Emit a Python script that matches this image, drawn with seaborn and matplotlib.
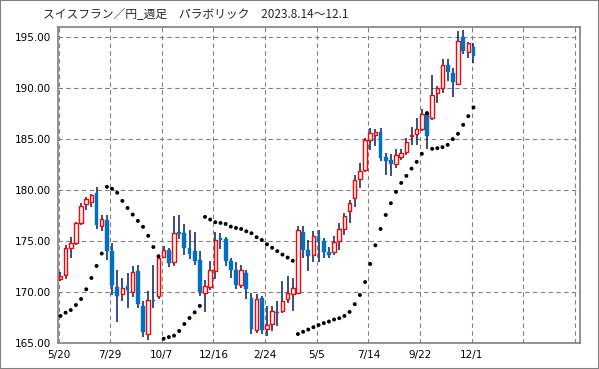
import numpy as np
import pandas as pd
import matplotlib
matplotlib.use("Agg")
import matplotlib.pyplot as plt
import seaborn as sns
from matplotlib.patches import Rectangle

# ---- data (weekly CHF/JPY candles and parabolic SAR) ----
opens = [171.27, 171.63, 174.31, 174.80, 176.76, 178.62, 178.82, 179.70, 176.47, 177.09,
         174.05, 170.52, 169.80, 170.62, 170.00, 172.10, 168.59, 165.85, 169.25, 169.57,
         173.41, 174.15, 172.94, 175.91, 175.78, 174.31, 174.05, 173.17, 169.90, 170.49,
         172.06, 175.29, 175.19, 173.07, 172.12, 170.72, 171.86, 169.41, 166.29, 169.38,
         166.35, 166.85, 168.03, 168.17, 169.34, 169.83, 169.93, 175.85, 174.15, 173.62,
         175.52, 174.96, 173.90, 173.95, 174.99, 176.20, 177.91, 179.21, 181.08, 181.95,
         184.93, 185.34, 185.70, 183.17, 182.90, 182.56, 183.24, 183.72, 185.30, 185.49,
         185.94, 187.42, 187.02, 189.47, 189.96, 192.19, 191.40, 190.39, 194.96, 193.49,
         193.95]
highs = [171.92, 174.64, 175.39, 176.90, 178.72, 179.28, 179.60, 180.32, 177.58, 177.51,
         174.80, 172.19, 171.37, 171.86, 172.51, 172.68, 169.08, 170.06, 172.60, 173.43,
         174.47, 174.35, 177.45, 177.50, 176.70, 176.04, 175.88, 174.05, 171.21, 173.00,
         175.85, 175.78, 175.40, 173.33, 172.89, 172.61, 172.12, 169.90, 169.80, 169.57,
         168.61, 168.66, 169.08, 171.04, 171.60, 171.37, 176.47, 176.43, 175.13, 175.94,
         176.04, 175.29, 174.40, 175.45, 176.76, 177.74, 179.00, 181.45, 182.64, 185.10,
         186.07, 185.95, 186.02, 183.65, 183.55, 184.00, 184.00, 185.09, 186.12, 187.02,
         187.94, 187.68, 191.21, 190.13, 192.84, 192.84, 191.93, 195.58, 195.68, 194.50,
         194.37]
lows = [171.04, 171.30, 173.33, 174.60, 176.60, 178.04, 178.36, 176.20, 175.94, 173.17,
        169.67, 167.06, 169.08, 168.43, 169.51, 168.40, 165.59, 165.33, 168.40, 169.30,
        173.50, 172.45, 172.51, 175.20, 173.66, 173.23, 172.68, 169.60, 168.00, 170.23,
        171.27, 174.21, 172.58, 171.37, 170.29, 170.39, 169.31, 165.86, 166.00, 165.89,
        165.73, 166.14, 166.63, 167.94, 168.92, 168.10, 169.85, 173.33, 172.02, 172.91,
        172.91, 173.33, 173.35, 173.66, 174.15, 175.62, 176.80, 178.30, 180.19, 181.76,
        183.95, 184.30, 182.85, 181.50, 181.40, 182.15, 182.90, 183.46, 184.35, 184.41,
        185.72, 183.98, 186.83, 188.49, 189.47, 190.62, 189.05, 190.29, 193.33, 192.90,
        192.41]
closes = [171.60, 174.31, 174.80, 176.76, 178.40, 179.11, 179.54, 176.53, 177.19, 173.98,
          170.65, 169.57, 170.39, 170.15, 171.99, 168.85, 166.08, 169.25, 169.10, 173.32,
          174.06, 172.85, 175.73, 175.70, 174.26, 173.71, 173.07, 170.00, 170.55, 172.12,
          175.06, 175.13, 173.07, 172.12, 170.65, 172.12, 170.27, 166.35, 169.34, 166.29,
          166.78, 168.14, 167.90, 169.11, 169.93, 170.42, 176.06, 174.08, 173.49, 175.49,
          174.90, 173.92, 173.62, 174.93, 176.20, 177.45, 178.71, 180.96, 181.83, 184.93,
          185.58, 185.70, 183.15, 182.83, 182.51, 183.45, 183.63, 184.68, 185.42, 185.98,
          187.45, 185.32, 189.25, 189.93, 192.19, 191.50, 190.52, 194.60, 193.56, 194.38,
          193.10]
sar = [167.65, 167.97, 168.23, 168.72, 169.31, 170.26, 171.37, 172.55, 173.76, 180.29,
       180.10, 179.72, 178.92, 178.22, 177.58, 176.96, 176.38, 175.50, 174.40, 173.50,
       165.42, 165.58, 165.72, 166.17, 166.86, 167.45, 168.00, 168.63, 177.35, 177.09,
       176.83, 176.76, 176.66, 176.40, 176.27, 176.17, 175.94, 175.75, 175.36, 175.09,
       174.67, 174.33, 174.00, 173.66, 173.37, 173.05, 165.88, 166.10, 166.32, 166.55,
       166.76, 166.95, 167.10, 167.30, 167.43, 167.65, 168.04, 168.80, 169.70, 170.97,
       172.74, 174.57, 176.17, 177.54, 178.69, 179.80, 180.68, 181.37, 182.08, 182.74,
       183.53, 187.51, 184.02, 184.08, 184.18, 184.41, 184.97, 185.49, 186.37, 187.22,
       188.07]
tick_labels = ["5/20", "7/29", "10/7", "12/16", "2/24", "5/5", "7/14", "9/22", "12/1", "", ""]
y_ticks = [165, 170, 175, 180, 185, 190, 195]
title = "スイスフラン／円_週足　パラボリック　2023.8.14～12.1"

df = pd.DataFrame({"open": opens, "high": highs, "low": lows, "close": closes, "sar": sar})
df["x"] = np.arange(len(df)) + 0.37

sns.set_style("white")
plt.rcParams["font.family"] = ["DejaVu Sans"]

W, H = 599, 369
fig = plt.figure(figsize=(W / 100, H / 100), dpi=100)
ax = fig.add_axes([58 / W, 1 - 343 / H, (580 - 58) / W, (343 - 27) / H])

up = df["close"] >= df["open"]
# wicks
ax.vlines(df["x"], df["low"], df["high"], color="#002060", linewidth=1.1, zorder=2)
# bodies
body_bottom = np.minimum(df["open"], df["close"])
body_h = np.maximum(np.abs(df["close"] - df["open"]), 0.06)
ax.bar(df["x"][up], body_h[up], bottom=body_bottom[up], width=0.68,
       facecolor="white", edgecolor="#FF0000", linewidth=1.0, zorder=3)
ax.bar(df["x"][~up], body_h[~up], bottom=body_bottom[~up], width=0.72,
       facecolor="#0070C0", edgecolor="#0070C0", linewidth=0.3, zorder=3)

# parabolic SAR dots
sns.scatterplot(data=df, x="x", y="sar", color="black", s=8, marker="o",
                edgecolor="none", ax=ax, legend=False, zorder=4)

ax.set_xlim(-0.1, 101.0)
ax.set_ylim(165, 195.95)
ax.set_xticks(np.arange(0, 101, 10))
ax.set_xticklabels(tick_labels)
ax.set_yticks(y_ticks)
ax.set_yticklabels([f"{v:.2f}" for v in y_ticks])
ax.set_xlabel("")
ax.set_ylabel("")
ax.tick_params(axis="both", length=0, labelsize=7.5, colors="black")
ax.tick_params(axis="y", pad=5)
ax.tick_params(axis="x", pad=5)
ax.grid(True, color="#808080", linestyle=(0, (4, 3)), linewidth=0.8)
ax.set_axisbelow(True)
for s in ax.spines.values():
    s.set_color("#808080")
    s.set_linewidth(1.2)
    s.set_visible(True)

fig.text(43 / W, 1 - 14 / H, title, fontsize=8.5, va="center", ha="left",
         family=["Noto Sans CJK JP", "DejaVu Sans"])

fig.patches.append(Rectangle((0, 0), 1, 1, transform=fig.transFigure, fill=False,
                             edgecolor="#808080", linewidth=1.5))

fig.savefig("out.png", dpi=100, facecolor="white")
